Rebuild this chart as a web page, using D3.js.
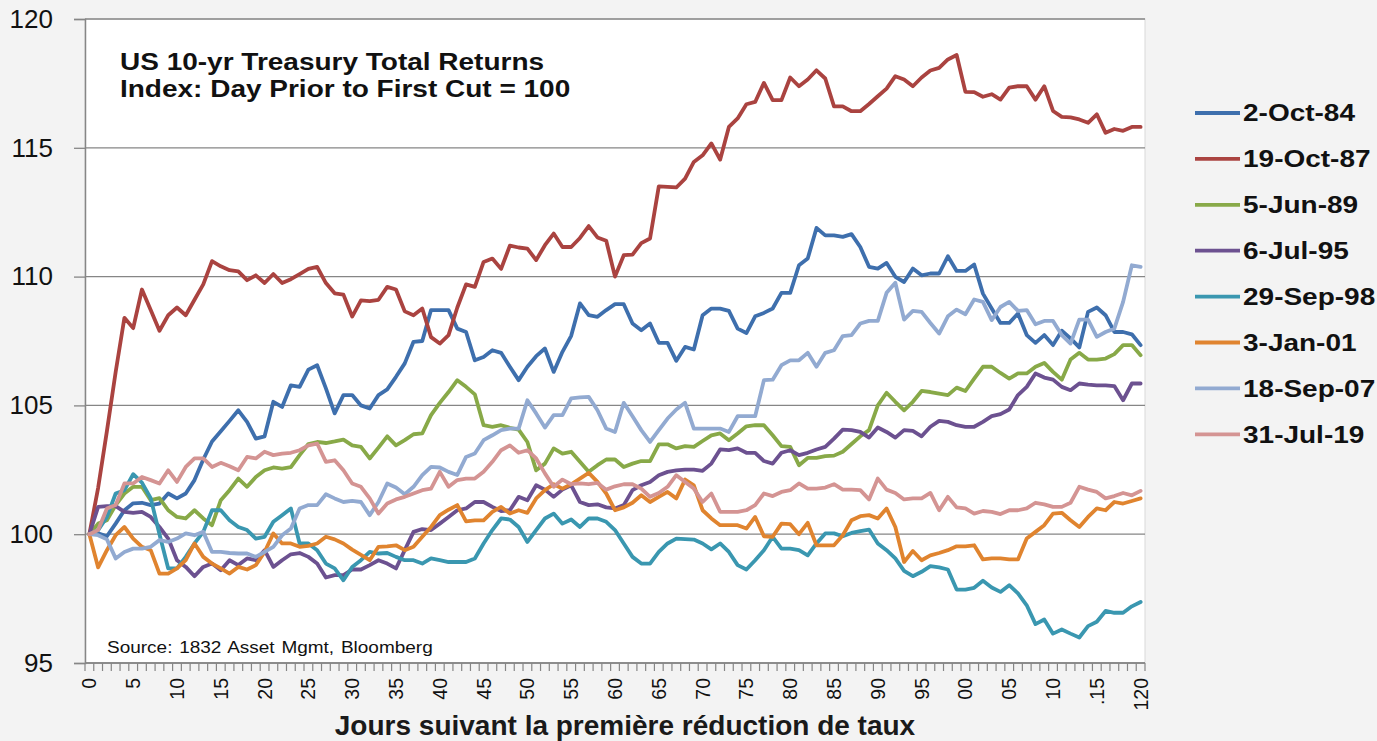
<!DOCTYPE html>
<html>
<head>
<meta charset="utf-8">
<script src="https://cdn.jsdelivr.net/npm/d3@7"></script>
<style>
  body { margin: 0; background: #f3f3f3; }
  svg { display: block; font-family: "Liberation Sans", Arial, sans-serif; }
</style>
</head>
<body>
<svg id="chart" width="1377" height="741"></svg>
<script>
// categories: trading days after the first cut
var days = d3.range(0, 121);
var yTicks = [95, 100, 105, 110, 115, 120];
var xTickDays = [0, 5, 10, 15, 20, 25, 30, 35, 40, 45, 50, 55, 60, 65, 70, 75, 80, 85, 90, 95, 100, 105, 110, 115, 120];
var xTickLabels = ["0", "5", "10", "15", "20", "25", "30", "35", "40", "45", "50", "55", "60", "65", "70", "75", "80", "85", "90", "95", "00", "05", "10", ".15", "120"];

var seriesNames = ["2-Oct-84", "19-Oct-87", "5-Jun-89", "6-Jul-95", "29-Sep-98", "3-Jan-01", "18-Sep-07", "31-Jul-19"];
var seriesColors = ["#3e6fad", "#aa4340", "#88a948", "#6c5190", "#3a97b0", "#e0842f", "#92aad1", "#d49493"];

var oct84 = [100, 100.03, 99.92, 100.41, 100.93, 101.2, 101.22, 101.13, 101.19, 101.58, 101.39, 101.58, 102.1, 102.9, 103.6, 104.0, 104.4, 104.81, 104.36, 103.71,
  103.8, 105.14, 104.94, 105.78, 105.72, 106.39, 106.56, 105.66, 104.69, 105.4, 105.4, 105.0, 104.88, 105.4, 105.62, 106.11, 106.63, 107.47, 107.5, 108.7,
  108.7, 108.7, 107.98, 107.85, 106.75, 106.88, 107.14, 107.04, 106.5, 105.98, 106.5, 106.91, 107.21, 106.3, 107.08, 107.7, 108.96, 108.5, 108.44, 108.7,
  108.93, 108.93, 108.18, 107.92, 108.18, 107.43, 107.43, 106.73, 107.27, 107.17, 108.5, 108.76, 108.76, 108.67, 107.98, 107.81, 108.46, 108.59, 108.76, 109.37,
  109.37, 110.44, 110.7, 111.89, 111.6, 111.6, 111.54, 111.65, 111.15, 110.38, 110.31, 110.53, 109.99, 109.79, 110.31, 110.05, 110.12, 110.12, 110.79, 110.22,
  110.22, 110.47, 109.34, 108.76, 108.2, 108.2, 108.57, 107.73, 107.43, 107.73, 107.34, 107.9, 107.6, 107.25, 108.63, 108.8, 108.5, 107.85, 107.85, 107.76,
  107.34];
var oct87 = [100, 101.8, 104, 106.3, 108.4, 108.0, 109.5, 108.7, 107.9, 108.5, 108.8, 108.5, 109.1, 109.7, 110.6, 110.4, 110.25, 110.2, 109.86, 110.05,
  109.75, 110.1, 109.75, 109.9, 110.1, 110.3, 110.38, 109.75, 109.35, 109.3, 108.45, 109.08, 109.05, 109.1, 109.6, 109.5, 108.65, 108.5, 108.76, 107.65,
  107.4, 107.73, 108.8, 109.7, 109.6, 110.57, 110.7, 110.3, 111.2, 111.13, 111.09, 110.64, 111.22, 111.67, 111.15, 111.15, 111.5, 111.96, 111.52, 111.39,
  110.0, 110.83, 110.85, 111.3, 111.48, 113.5, 113.48, 113.46, 113.8, 114.45, 114.71, 115.17, 114.54, 115.81, 116.14, 116.69, 116.78, 117.52, 116.85, 116.85,
  117.73, 117.39, 117.65, 118.01, 117.69, 116.61, 116.61, 116.42, 116.42, 116.7, 117.0, 117.3, 117.78, 117.65, 117.39, 117.73, 118.0, 118.1, 118.43, 118.6,
  117.17, 117.16, 116.98, 117.08, 116.87, 117.34, 117.39, 117.39, 116.87, 117.39, 116.43, 116.2, 116.18, 116.1, 115.97, 116.3, 115.58, 115.73, 115.66, 115.81,
  115.81];
var jun89 = [100, 100.41, 100.54, 101.13, 101.58, 101.84, 101.84, 101.32, 101.4, 100.93, 100.67, 100.61, 100.93, 100.61, 100.35, 101.32, 101.71, 102.16, 101.84, 102.22,
  102.48, 102.59, 102.55, 102.6, 103.07, 103.5, 103.58, 103.54, 103.6, 103.67, 103.45, 103.39, 102.94, 103.36, 103.8, 103.45, 103.65, 103.88, 103.91, 104.62,
  105.1, 105.52, 105.98, 105.72, 105.43, 104.23, 104.17, 104.23, 104.13, 104.06, 103.58, 102.48, 102.74, 103.33, 103.13, 103.2, 102.81, 102.42, 102.68, 102.9,
  102.9, 102.61, 102.74, 102.84, 102.84, 103.49, 103.49, 103.33, 103.42, 103.39, 103.62, 103.84, 103.91, 103.65, 103.91, 104.19, 104.23, 104.23, 103.84, 103.42,
  103.39, 102.68, 102.96, 102.96, 103.03, 103.05, 103.2, 103.5, 103.8, 104.04, 105.0, 105.49, 105.14, 104.81, 105.14, 105.56, 105.52, 105.46, 105.4, 105.69,
  105.56, 106.04, 106.5, 106.5, 106.26, 106.04, 106.24, 106.24, 106.5, 106.65, 106.3, 106.0, 106.78, 107.04, 106.78, 106.78, 106.82, 106.99, 107.34, 107.34,
  106.95];
var jul95 = [100, 101.06, 101.09, 101.09, 100.87, 100.83, 100.87, 100.67, 100.28, 99.83, 98.99, 98.73, 98.37, 98.73, 98.86, 98.6, 98.99, 98.8, 99.06, 98.99,
  99.38, 98.73, 98.99, 99.22, 99.27, 99.12, 98.86, 98.32, 98.41, 98.41, 98.63, 98.63, 98.8, 98.99, 98.86, 98.67, 99.38, 100.09, 100.2, 100.16,
  100.41, 100.67, 100.93, 101.0, 101.25, 101.25, 101.06, 100.9, 100.93, 101.45, 101.32, 101.9, 101.73, 101.45, 101.73, 101.9, 101.25, 101.13, 101.16, 101.04,
  101.0, 101.13, 101.71, 101.9, 102.03, 102.29, 102.42, 102.48, 102.51, 102.51, 102.46, 102.74, 103.29, 103.26, 103.33, 103.16, 103.16, 102.84, 102.74, 103.16,
  103.26, 103.07, 103.16, 103.29, 103.39, 103.71, 104.06, 104.04, 103.97, 103.75, 104.14, 103.97, 103.75, 104.04, 104.01, 103.8, 104.17, 104.4, 104.36, 104.23,
  104.17, 104.17, 104.36, 104.58, 104.66, 104.84, 105.4, 105.72, 106.24, 106.08, 106.0, 105.72, 105.59, 105.85, 105.81, 105.78, 105.78, 105.75, 105.2, 105.85,
  105.85];
var sep98 = [100, 100.16, 100.67, 101.58, 101.71, 102.33, 102.0, 101.4, 100.0, 98.67, 98.67, 99.12, 99.64, 100.09, 100.93, 100.93, 100.54, 100.28, 100.16, 99.83,
  99.9, 100.48, 100.74, 101.0, 99.64, 99.64, 99.38, 98.86, 98.67, 98.21, 98.73, 98.99, 99.31, 99.25, 99.27, 99.12, 98.99, 98.99, 98.86, 99.06,
  98.99, 98.92, 98.92, 98.92, 99.06, 99.64, 100.16, 100.61, 100.57, 100.28, 99.7, 100.16, 100.61, 100.8, 100.41, 100.57, 100.28, 100.61, 100.61, 100.48,
  100.16, 99.64, 99.12, 98.86, 98.86, 99.31, 99.64, 99.83, 99.81, 99.79, 99.64, 99.41, 99.64, 99.31, 98.8, 98.63, 98.99, 99.38, 99.9, 99.44,
  99.44, 99.38, 99.18, 99.64, 100.03, 100.03, 99.92, 100.05, 100.12, 100.18, 99.64, 99.38, 99.06, 98.58, 98.37, 98.54, 98.76, 98.71, 98.63, 97.85,
  97.85, 97.92, 98.19, 97.93, 97.76, 98.02, 97.7, 97.24, 96.51, 96.69, 96.14, 96.3, 96.14, 95.99, 96.43, 96.6, 97.02, 96.95, 96.95, 97.2,
  97.37];
var jan01 = [100, 98.71, 99.38, 99.96, 100.28, 99.83, 99.51, 99.38, 98.47, 98.47, 98.67, 98.99, 99.64, 99.12, 98.86, 98.67, 98.47, 98.73, 98.63, 98.8,
  99.31, 100.03, 99.64, 99.64, 99.51, 99.55, 99.64, 99.9, 99.8, 99.64, 99.4, 99.2, 98.99, 99.51, 99.53, 99.57, 99.38, 99.51, 99.9, 100.28,
  100.74, 100.95, 101.13, 100.5, 100.54, 100.54, 100.87, 101.06, 100.8, 100.93, 100.83, 101.39, 101.71, 101.94, 101.77, 101.94, 102.16, 102.38, 102.03, 101.58,
  100.93, 101.04, 101.22, 101.51, 101.25, 101.45, 101.64, 101.39, 102.12, 101.9, 100.93, 100.61, 100.35, 100.35, 100.35, 100.22, 100.67, 99.92, 99.9, 100.41,
  100.39, 100.0, 100.44, 99.57, 99.57, 99.57, 99.96, 100.54, 100.7, 100.74, 100.61, 101.0, 100.28, 98.92, 99.35, 98.99, 99.18, 99.27, 99.38, 99.53,
  99.53, 99.57, 99.02, 99.06, 99.06, 99.02, 99.02, 99.83, 100.09, 100.35, 100.8, 100.83, 100.54, 100.28, 100.67, 101.0, 100.93, 101.25, 101.19, 101.29,
  101.39];
var sep07 = [100, 99.96, 99.8, 99.06, 99.31, 99.44, 99.44, 99.51, 99.77, 99.7, 99.83, 100.03, 99.96, 100.09, 99.31, 99.31, 99.27, 99.25, 99.25, 99.12,
  99.31, 99.51, 99.96, 100.22, 101.0, 101.13, 101.13, 101.55, 101.39, 101.25, 101.29, 101.25, 100.74, 101.25, 101.97, 101.81, 101.55, 101.84, 102.29, 102.61,
  102.59, 102.42, 102.3, 103.0, 103.13, 103.65, 103.84, 104.04, 104.1, 104.1, 105.2, 104.69, 104.14, 104.62, 104.62, 105.27, 105.31, 105.33, 104.81, 104.1,
  103.97, 105.1, 104.58, 104.04, 103.58, 104.04, 104.49, 104.84, 105.1, 104.1, 104.1, 104.1, 104.1, 103.97, 104.58, 104.58, 104.58, 105.98, 106.0, 106.56,
  106.75, 106.75, 107.04, 106.5, 107.04, 107.14, 107.69, 107.73, 108.18, 108.28, 108.28, 109.37, 109.76, 108.33, 108.67, 108.63, 108.2, 107.79, 108.46, 108.72,
  108.54, 109.11, 109.02, 108.31, 108.82, 109.02, 108.67, 108.7, 108.15, 108.28, 108.28, 107.73, 107.4, 108.33, 108.33, 107.66, 107.85, 107.98, 109.02, 110.44,
  110.38];
var jul19 = [100, 100.16, 101.0, 101.13, 101.97, 101.97, 102.22, 102.1, 101.97, 102.48, 102.03, 102.61, 102.94, 102.94, 102.61, 102.77, 102.64, 102.48, 103.0, 102.94,
  103.2, 103.07, 103.13, 103.16, 103.26, 103.45, 103.52, 102.81, 102.87, 102.48, 101.97, 101.84, 101.39, 100.8, 101.19, 101.35, 101.45, 101.58, 101.71, 101.77,
  102.42, 101.84, 102.1, 102.16, 102.16, 102.42, 102.81, 103.26, 103.45, 103.16, 103.26, 102.94, 102.36, 101.84, 102.12, 101.94, 101.97, 101.94, 101.99, 101.73,
  101.86, 101.94, 101.94, 101.77, 101.45, 101.6, 101.84, 102.29, 102.03, 101.77, 101.25, 101.58, 100.87, 100.87, 100.87, 100.93, 101.13, 101.58, 101.48, 101.64,
  101.71, 101.97, 101.77, 101.77, 101.81, 101.94, 101.73, 101.73, 101.71, 101.35, 102.16, 101.73, 101.6, 101.35, 101.39, 101.39, 101.6, 100.93, 101.45, 101.04,
  101.0, 100.8, 100.9, 100.87, 100.78, 100.93, 100.93, 101.0, 101.22, 101.16, 101.06, 101.06, 101.22, 101.84, 101.73, 101.64, 101.39, 101.48, 101.6, 101.51,
  101.68];

var seriesValues = [oct84, oct87, jun89, jul95, sep98, jan01, sep07, jul19];

var svg = d3.select("#chart"),
    plot = {left: 85, right: 1145, top: 19, bottom: 663};

var x = d3.scalePoint()
    .domain(days)
    .range([plot.left, plot.right])
    .padding(0.5);

var y = d3.scaleLinear()
    .domain([95, 120])
    .range([plot.bottom, plot.top]);

// white plot area
svg.append("rect")
    .attr("x", plot.left)
    .attr("y", plot.top)
    .attr("width", plot.right - plot.left)
    .attr("height", plot.bottom - plot.top)
    .attr("fill", "#fff")
    .attr("stroke", "#d9d9d9");

// horizontal gridlines
svg.append("g")
    .selectAll("line")
    .data(yTicks)
    .enter().append("line")
    .attr("x1", plot.left)
    .attr("x2", plot.right)
    .attr("y1", function(d) { return y(d); })
    .attr("y2", function(d) { return y(d); })
    .attr("stroke", "#868686")
    .attr("stroke-width", 1.3);

// y axis
var yAxis = svg.append("g")
    .attr("transform", "translate(" + plot.left + ",0)")
    .call(d3.axisLeft(y).tickValues(yTicks).tickSize(11).tickPadding(21));
yAxis.select(".domain").attr("stroke", "#868686").attr("stroke-width", 1.5);
yAxis.selectAll(".tick line").attr("stroke", "#868686").attr("stroke-width", 1.3);
yAxis.selectAll(".tick text")
    .attr("font-size", 26)
    .attr("fill", "#111");

// x axis: minor ticks at category boundaries
var step = x.step();
var xAxis = svg.append("g")
    .attr("transform", "translate(0," + plot.bottom + ")");
xAxis.append("line")
    .attr("x1", plot.left)
    .attr("x2", plot.right)
    .attr("stroke", "#868686")
    .attr("stroke-width", 1.5);
xAxis.selectAll(".minor")
    .data(days.concat([days.length]))
    .enter().append("line")
    .attr("class", "minor")
    .attr("x1", function(d) { return plot.left + d * step; })
    .attr("x2", function(d) { return plot.left + d * step; })
    .attr("y2", 8)
    .attr("stroke", "#868686")
    .attr("stroke-width", 1.2);
xAxis.selectAll(".xlab")
    .data(xTickDays)
    .enter().append("text")
    .attr("class", "xlab")
    .attr("transform", function(d) { return "translate(" + x(d) + ",15) rotate(-90)"; })
    .attr("dy", "0.36em")
    .attr("text-anchor", "end")
    .attr("font-size", 19.5)
    .attr("fill", "#111")
    .text(function(d, i) { return xTickLabels[i]; });

svg.append("text")
    .attr("x", 625)
    .attr("y", 735)
    .attr("text-anchor", "middle")
    .attr("font-size", 28)
    .attr("font-weight", "bold")
    .attr("fill", "#1a1a1a")
    .text("Jours suivant la première réduction de taux");

// lines
var line = d3.line()
    .x(function(d, i) { return x(days[i]); })
    .y(function(d) { return y(d); });

svg.append("g")
    .selectAll("path")
    .data(seriesValues)
    .enter().append("path")
    .attr("d", line)
    .attr("fill", "none")
    .attr("stroke", function(d, i) { return seriesColors[i]; })
    .attr("stroke-width", 3.8)
    .attr("stroke-linejoin", "round")
    .attr("stroke-linecap", "round");

// title inside the plot
var titleLines = ["US 10-yr Treasury Total Returns", "Index: Day Prior to First Cut = 100"];
svg.append("g")
    .selectAll("text")
    .data(titleLines)
    .enter().append("text")
    .attr("transform", function(d, i) { return "translate(120," + (70 + i * 27) + ") scale(1,0.84)"; })
    .attr("font-size", 28)
    .attr("font-weight", "bold")
    .attr("fill", "#111")
    .text(function(d) { return d; });

svg.append("text")
    .attr("transform", "translate(107,653) scale(1,0.84)")
    .attr("font-size", 19)
    .attr("word-spacing", 1.5)
    .attr("fill", "#111")
    .text("Source: 1832 Asset Mgmt, Bloomberg");

// legend
var legend = svg.append("g")
    .selectAll("g")
    .data(seriesNames)
    .enter().append("g")
    .attr("transform", function(d, i) { return "translate(1195," + (113 + i * 45.9) + ")"; });
legend.append("line")
    .attr("x2", 45)
    .attr("stroke", function(d, i) { return seriesColors[i]; })
    .attr("stroke-width", 3.8);
legend.append("text")
    .attr("transform", "translate(48,0) scale(1,0.84)")
    .attr("dy", "0.36em")
    .attr("font-size", 28)
    .attr("font-weight", "bold")
    .attr("fill", "#111")
    .text(function(d) { return d; });
</script>
</body>
</html>
